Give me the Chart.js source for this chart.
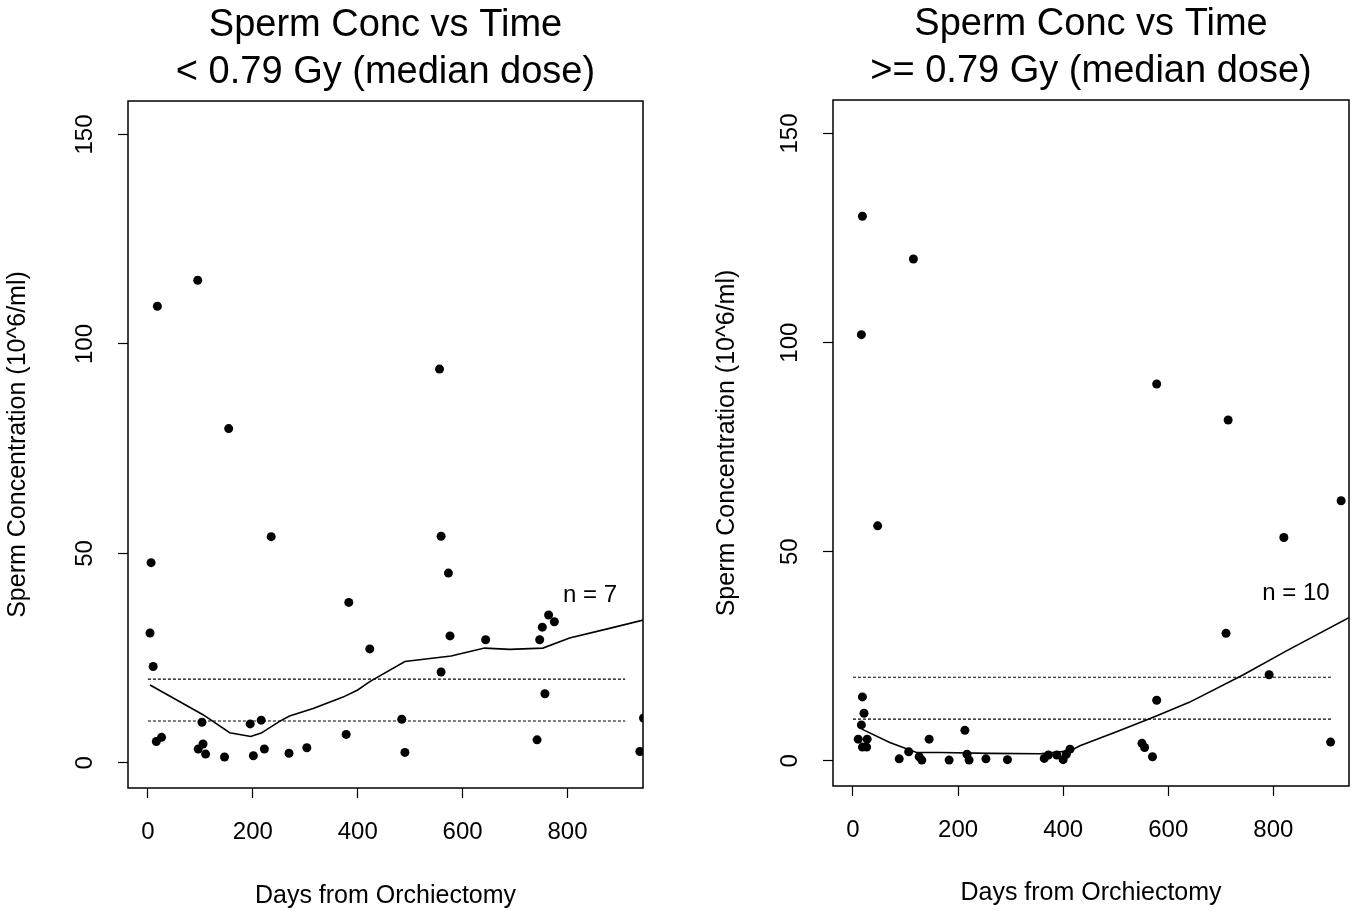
<!DOCTYPE html>
<html>
<head>
<meta charset="utf-8">
<script src="https://cdn.jsdelivr.net/npm/chart.js@4.4.1/dist/chart.umd.min.js"></script>
<style>
  html, body { margin:0; padding:0; background:#fff; }
  #wrap { position:relative; width:1356px; height:911px; }
  canvas { position:absolute; top:0; }
  #leftChart { left:0; }
  #rightChart { left:678px; }
</style>
</head>
<body>
<div id="wrap">
  <canvas id="leftChart" width="678" height="911"></canvas>
  <canvas id="rightChart" width="678" height="911"></canvas>
</div>
<script>
/* Sperm concentration vs days from orchiectomy, split by median dose */

const FONT = "'Liberation Sans', Arial, Helvetica, sans-serif";

// axis ticks (both panels)
const X_TICKS = [0, 200, 400, 600, 800];
const Y_TICKS = [0, 50, 100, 150];
const X_MIN = -38, X_MAX = 944;
const Y_MIN = -6,  Y_MAX = 158;

// reference lines (10^6/ml)
const REF_UPPER = 20;
const REF_LOWER = 10;
const REF_X = [0, 910];

// ----- left panel: < 0.79 Gy
const LOW_DAYS = [6, 4, 10, 18, 16, 26, 95, 103, 105, 96, 110, 146, 154, 195, 216, 201, 222, 235,
                  269, 303, 383, 378, 423, 484, 490, 556, 559, 573, 576, 559, 644, 747, 752, 764,
                  775, 757, 742, 945, 938];
const LOW_CONC = [47.8, 31, 23, 109, 5.1, 6.1, 115.2, 9.7, 4.5, 3.3, 2.1, 1.4, 79.8, 9.3, 10.2, 1.7, 3.3, 54,
                  2.3, 3.6, 38.3, 6.8, 27.2, 10.4, 2.5, 94, 54.1, 45.3, 30.3, 21.7, 29.4, 29.4, 32.4, 35.3,
                  33.7, 16.5, 5.5, 10.7, 2.7];
const LOW_FIT_DAYS = [4, 105, 156, 196, 216, 251, 270, 315, 372, 400, 423, 490, 578, 642, 690, 753, 804, 880, 945];
const LOW_FIT_CONC = [18.6, 11.5, 7.2, 6.3, 7.1, 9.9, 11.2, 13, 15.7, 17.4, 19.4, 24.2, 25.5, 27.4, 27.1, 27.4, 29.8, 32.1, 34.1];
const LOW_N = 'n = 7';

// ----- right panel: >= 0.79 Gy
const HIGH_DAYS = [18, 115, 16, 47, 18, 21, 16, 10, 27, 18, 26, 88, 106, 126, 131, 145, 183, 213, 217, 221,
                   253, 294, 364, 372, 388, 400, 406, 413, 550, 555, 570, 578, 578, 714, 710, 792, 820, 909, 929];
const HIGH_CONC = [130.2, 120, 101.9, 56.2, 15.3, 11.4, 8.6, 5.2, 5.2, 3.3, 3.3, 0.5, 2.2, 1, 0.2, 5.2, 0.2, 7.3, 1.6, 0.2,
                   0.5, 0.3, 0.6, 1.4, 1.4, 0.3, 1.6, 2.8, 4.2, 3.2, 1, 14.5, 90.1, 81.5, 30.5, 20.6, 53.4, 4.5, 62.2];
const HIGH_FIT_DAYS = [17, 70, 121, 166, 261, 356, 413, 432, 509, 575, 640, 743, 825, 945];
const HIGH_FIT_CONC = [7.6, 4.4, 2.0, 2.0, 1.8, 1.7, 2.4, 3.6, 7.3, 10.6, 14, 20.6, 26.3, 34.3];
const HIGH_N = 'n = 10';

// where the n label sits (data units)
const N_LABEL_X = 843, N_LABEL_Y = 40;

const pts = (xs, ys) => xs.map((x, i) => ({ x, y: ys[i] }));

const frame = {
  id: 'frame',
  afterDatasetsDraw(chart){
    const { ctx, chartArea: a } = chart;
    ctx.save();
    ctx.strokeStyle = '#000'; ctx.lineWidth = 1.5;
    ctx.strokeRect(a.left, a.top, a.right - a.left, a.bottom - a.top);
    ctx.restore();
  }
};

const nLabel = {
  id: 'nLabel',
  afterDatasetsDraw(chart, args, opts){
    const { ctx, scales: { x, y } } = chart;
    ctx.save();
    ctx.font = `24px ${FONT}`;
    ctx.fillStyle = '#000'; ctx.textAlign = 'center'; ctx.textBaseline = 'middle';
    ctx.fillText(opts.text, x.getPixelForValue(opts.x), y.getPixelForValue(opts.y));
    ctx.restore();
  }
};

function makePanel(id, c){
  const refLine = v => ({
    type: 'line', data: pts(REF_X, REF_X.map(() => v)),
    borderColor: '#000', borderWidth: 1.2, borderDash: [3, 2], pointRadius: 0, fill: false
  });
  return new Chart(document.getElementById(id), {
    type: 'scatter',
    data: { datasets: [
      { data: pts(c.days, c.conc), backgroundColor: '#000', borderWidth: 0, pointRadius: 4.5 },
      { type: 'line', data: pts(c.fitDays, c.fitConc), borderColor: '#000', borderWidth: 1.6,
        pointRadius: 0, tension: 0, fill: false },
      refLine(REF_UPPER),
      refLine(REF_LOWER)
    ]},
    options: {
      responsive: false, animation: false, events: [],
      layout: { padding: { left: 0, right: c.padRight, top: 0, bottom: 0 } },
      plugins: {
        legend: { display: false }, tooltip: { enabled: false },
        title: { display: true, text: c.title, color: '#000', fullSize: false,
                 font: { family: FONT, size: 38, weight: 'normal', lineHeight: 1.237 },
                 padding: c.titlePad },
        nLabel: { text: c.nText, x: N_LABEL_X, y: N_LABEL_Y }
      },
      scales: {
        x: {
          type: 'linear', position: 'bottom', min: X_MIN, max: X_MAX,
          afterBuildTicks: s => { s.ticks = X_TICKS.map(v => ({ value: v })); },
          afterFit: s => { s.height = c.xHeight; },
          ticks: { color: '#000', font: { family: FONT, size: 24 }, padding: 20, maxRotation: 0, autoSkip: false },
          grid: { drawOnChartArea: false, drawTicks: true, tickLength: 10, tickColor: '#000', tickWidth: 1.2 },
          border: { display: false },
          title: { display: true, text: 'Days from Orchiectomy', color: '#000',
                   font: { family: FONT, size: 25, lineHeight: 1.2 }, padding: { top: 0, bottom: c.xTitlePad } }
        },
        y: {
          type: 'linear', position: 'left', min: Y_MIN, max: Y_MAX,
          afterBuildTicks: s => { s.ticks = Y_TICKS.map(v => ({ value: v })); },
          afterFit: s => { s.width = c.yWidth; },
          ticks: { color: '#000', font: { family: FONT, size: 24 }, padding: 13,
                   minRotation: 90, maxRotation: 90, crossAlign: 'center', autoSkip: false },
          grid: { drawOnChartArea: false, drawTicks: true, tickLength: 10, tickColor: '#000', tickWidth: 1.2 },
          border: { display: false },
          title: { display: true, text: 'Sperm Concentration (10^6/ml)', color: '#000',
                   font: { family: FONT, size: 25, lineHeight: 1.2 }, padding: { top: c.yTitlePad, bottom: 0 } }
        }
      }
    },
    plugins: [frame, nLabel]
  });
}

makePanel('leftChart', {
  title: ['Sperm Conc vs Time', '< 0.79 Gy (median dose)'],
  days: LOW_DAYS, conc: LOW_CONC, fitDays: LOW_FIT_DAYS, fitConc: LOW_FIT_CONC, nText: LOW_N,
  padRight: 35, titlePad: { top: 2, bottom: 5 }, xHeight: 123, yWidth: 128, xTitlePad: 0, yTitlePad: 3
});

makePanel('rightChart', {
  title: ['Sperm Conc vs Time', '>= 0.79 Gy (median dose)'],
  days: HIGH_DAYS, conc: HIGH_CONC, fitDays: HIGH_FIT_DAYS, fitConc: HIGH_FIT_CONC, nText: HIGH_N,
  padRight: 7, titlePad: { top: 1, bottom: 5 }, xHeight: 125, yWidth: 155, xTitlePad: 3, yTitlePad: 34
});
</script>
</body>
</html>
